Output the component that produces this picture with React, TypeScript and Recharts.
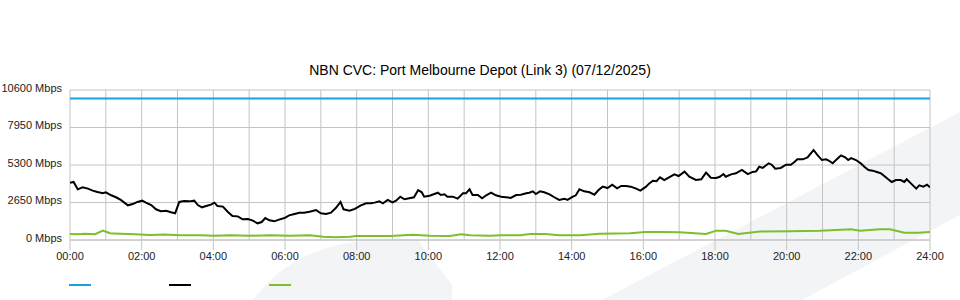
import { LineChart, Line, XAxis, YAxis, CartesianGrid } from 'recharts';

const TITLE = 'NBN CVC: Port Melbourne Depot (Link 3) (07/12/2025)';

// minutes since midnight
const xTicks = [0, 120, 240, 360, 480, 600, 720, 840, 960, 1080, 1200, 1320, 1440];
const xLabels = ['00:00', '02:00', '04:00', '06:00', '08:00', '10:00', '12:00', '14:00', '16:00', '18:00', '20:00', '22:00', '24:00'];
const hourLines = [0, 60, 120, 180, 240, 300, 360, 420, 480, 540, 600, 660, 720, 780, 840, 900, 960, 1020, 1080, 1140, 1200, 1260, 1320, 1380, 1440];
const yTicks = [0, 2650, 5300, 7950, 10600];

const capacityTimes = [0, 1440];
const capacityValues = [10000, 10000];

const inTimes = [
  0, 6, 13, 21, 30, 38, 46, 55, 60, 69, 77, 85, 97, 105, 113, 121, 127, 136, 144, 152, 161, 169, 176, 183, 191, 200,
  208, 214, 221, 228, 236, 242, 247, 256, 264, 272, 281, 289, 298, 306, 314, 321, 327, 334, 342, 350, 359, 367, 376,
  384, 392, 401, 412, 420, 429, 437, 445, 453, 458, 468, 477, 487, 496, 504, 510, 518, 524, 532, 540, 546, 553, 560,
  568, 576, 583, 589, 593, 602, 610, 616, 621, 627, 632, 641, 649, 658, 663, 669, 674, 683, 690, 697, 705, 713, 722,
  730, 738, 747, 755, 764, 769, 775, 780, 787, 794, 803, 811, 819, 828, 833, 842, 847, 853, 861, 870, 878, 885, 892,
  900, 908, 916, 923, 931, 939, 948, 955, 964, 970, 976, 982, 988, 995, 1003, 1012, 1019, 1029, 1037, 1048, 1057,
  1065, 1073, 1082, 1088, 1094, 1098, 1107, 1115, 1125, 1135, 1143, 1149, 1154, 1160, 1164, 1170, 1175, 1181, 1190,
  1199, 1207, 1213, 1218, 1227, 1235, 1245, 1252, 1259, 1266, 1271, 1277, 1284, 1291, 1298, 1303, 1308, 1316, 1324,
  1331, 1337, 1344, 1351, 1358, 1365, 1370, 1376, 1383, 1391, 1397, 1401, 1408, 1417, 1422, 1429, 1435, 1440,
];
const inValues = [
  4050, 4100, 3580, 3720, 3630, 3490, 3390, 3300, 3370, 3160, 3020, 2830, 2450, 2540, 2690, 2780, 2640, 2470, 2170,
  2030, 2070, 1960, 1890, 2690, 2760, 2730, 2780, 2470, 2310, 2400, 2500, 2640, 2400, 2360, 2000, 1700, 1670, 1460,
  1480, 1370, 1180, 1270, 1550, 1390, 1320, 1440, 1550, 1740, 1840, 1930, 1930, 2000, 2120, 1890, 1840, 1930, 2260,
  2690, 2170, 2070, 2200, 2450, 2590, 2590, 2640, 2730, 2590, 2830, 2660, 2780, 3060, 2880, 2950, 3020, 3530, 3370,
  3060, 3130, 3250, 3340, 3180, 3230, 3060, 3060, 2920, 3300, 3300, 3580, 3180, 3180, 2950, 3160, 3340, 3160, 3060,
  3020, 2970, 3180, 3200, 3300, 3340, 3440, 3250, 3440, 3370, 3230, 3020, 2830, 2920, 2830, 3060, 3160, 3580, 3440,
  3370, 3200, 3530, 3770, 3670, 3910, 3650, 3820, 3820, 3770, 3630, 3490, 3750, 4000, 4190, 4150, 4430, 4240, 4430,
  4640, 4520, 4830, 4470, 4240, 4290, 4760, 4400, 4380, 4470, 4660, 4470, 4640, 4710, 4950, 4660, 4810, 4850, 5180,
  5090, 5230, 5420, 5320, 5040, 5090, 5320, 5320, 5510, 5700, 5700, 5840, 6360, 5980, 5650, 5700, 5600, 5420, 5700,
  5980, 5840, 5650, 5790, 5650, 5420, 5140, 4950, 4900, 4810, 4710, 4470, 4290, 4100, 4240, 4240, 4100, 4290, 4000,
  3630, 3860, 3770, 3910, 3720,
];

const outTimes = [
  0, 12, 25, 42, 55, 67, 84, 109, 134, 159, 184, 218, 243, 268, 301, 335, 368, 402, 424, 444, 469, 479, 502, 536, 574,
  603, 636, 655, 670, 703, 722, 754, 770, 795, 820, 854, 887, 938, 963, 988, 1021, 1065, 1082, 1098, 1119, 1155, 1206,
  1256, 1308, 1323, 1356, 1373, 1397, 1420, 1440,
];
const outValues = [
  424, 400, 440, 410, 660, 480, 440, 400, 360, 380, 330, 330, 300, 330, 300, 330, 300, 330, 236, 191, 236, 283, 283,
  283, 375, 300, 283, 400, 330, 300, 332, 332, 424, 424, 332, 332, 450, 470, 565, 565, 540, 424, 660, 660, 424, 600,
  615, 660, 756, 660, 756, 756, 516, 516, 560,
];

const capacity = capacityTimes.map((t, i) => ({ t, v: capacityValues[i] }));
const inbound = inTimes.map((t, i) => ({ t, v: inValues[i] }));
const outbound = outTimes.map((t, i) => ({ t, v: outValues[i] }));

const FONT = '"Liberation Sans", Arial, sans-serif';
const GRID = '#c4c4c4';

function YTick({ x, y, payload }: any) {
  return (
    <text x={x} y={y - 2} dy="0.355em" textAnchor="end" fontSize={11} fill="#222" fontFamily={FONT}>
      {`${payload.value} Mbps`}
    </text>
  );
}

export default function App() {
  return (
    <div style={{ position: 'relative', width: 960, height: 300, fontFamily: FONT, background: '#fff' }}>
      <style>{'body{margin:0}'}</style>
      <svg width={960} height={300} style={{ position: 'absolute', left: 0, top: 0 }}>
        <path d="M253,300 Q290,250 355,242 Q395,236 418,240 L452,285 L452,300 Z" fill="#f3f4f6" />
        <path d="M602,300 L960,112 L960,215 L802,300 Z" fill="#f3f4f6" />
      </svg>
      <div
        style={{
          position: 'absolute',
          top: 61,
          left: 0,
          width: 960,
          textAlign: 'center',
          fontSize: 14,
          lineHeight: '18px',
          color: '#000',
        }}
      >
        {TITLE}
      </div>
      <div style={{ position: 'absolute', left: 0, top: 0 }}>
        <LineChart width={960} height={300} margin={{ top: 90, right: 30, bottom: 0, left: 0 }}>
          <CartesianGrid stroke={GRID} verticalValues={hourLines} />
          <XAxis
            dataKey="t"
            type="number"
            domain={[0, 1440]}
            ticks={xTicks}
            tickFormatter={(v: number) => xLabels[xTicks.indexOf(v)]}
            height={60}
            tickSize={10}
            axisLine={{ stroke: GRID }}
            tickLine={{ stroke: GRID }}
            tick={{ fontSize: 11, fill: '#222', fontFamily: FONT }}
            allowDataOverflow
          />
          <YAxis
            type="number"
            domain={[0, 10600]}
            ticks={yTicks}
            width={70}
            axisLine={false}
            tickLine={false}
            tick={<YTick />}
          />
          <Line data={capacity} dataKey="v" name="Capacity" stroke="#1ba1e2" strokeWidth={2} dot={false} isAnimationActive={false} />
          <Line data={inbound} dataKey="v" name="Inbound" stroke="#000" strokeWidth={2} dot={false} isAnimationActive={false} />
          <Line data={outbound} dataKey="v" name="Outbound" stroke="#7cbf2a" strokeWidth={2} dot={false} isAnimationActive={false} />
        </LineChart>
      </div>
      <div style={{ position: 'absolute', left: 69, top: 284, width: 22, height: 2, background: '#1ba1e2' }} />
      <div style={{ position: 'absolute', left: 169, top: 284, width: 22, height: 2, background: '#000' }} />
      <div style={{ position: 'absolute', left: 269, top: 284, width: 22, height: 2, background: '#7cbf2a' }} />
    </div>
  );
}
